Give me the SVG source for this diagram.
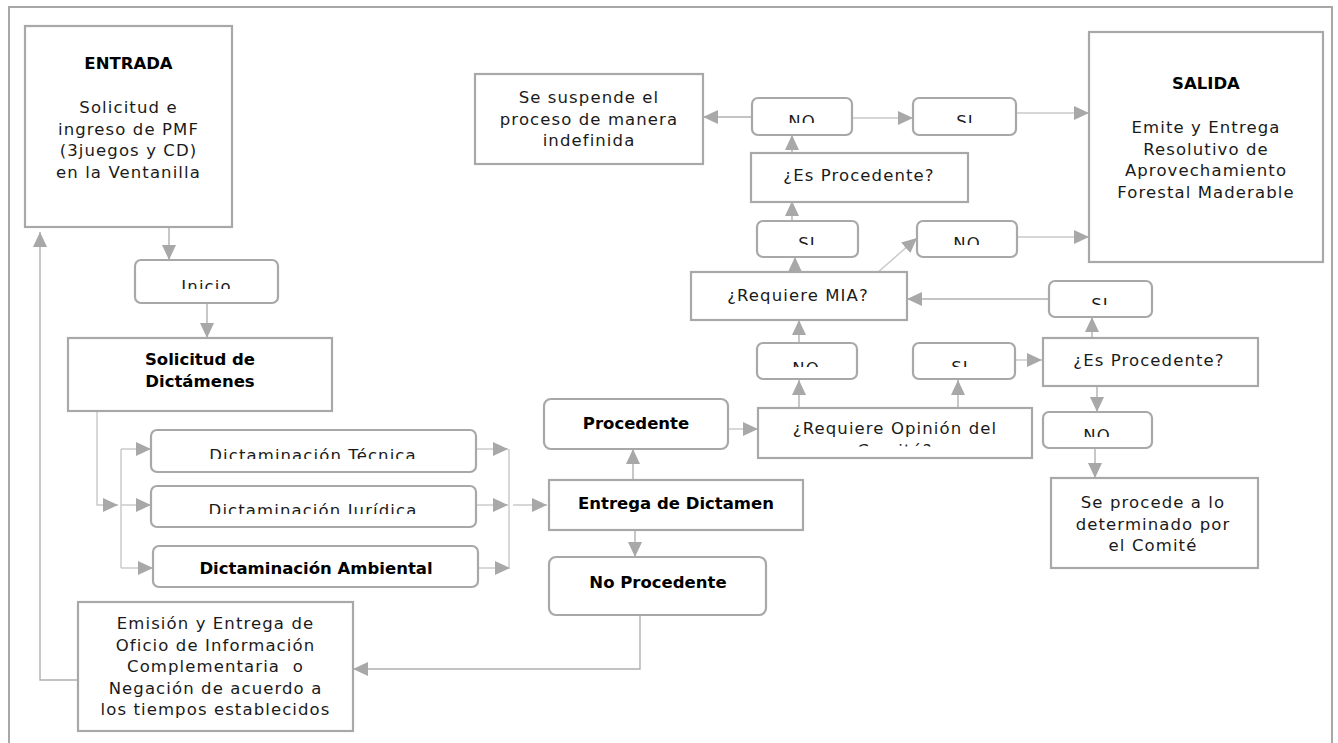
<svg xmlns="http://www.w3.org/2000/svg" width="1338" height="743" viewBox="0 0 1338 743">
<style>
.bx{fill:#fff;stroke:#a8a8a8;stroke-width:2.2}
.ln{fill:none;stroke:#b0b0b0;stroke-width:1.4}
.lt{fill:none;stroke:#c8c8c8;stroke-width:1.4}
.t{font-family:"DejaVu Sans","Liberation Sans",sans-serif;font-size:16.5px;fill:#1a1a1a;text-anchor:middle;letter-spacing:1.1px}
.b{font-family:"DejaVu Sans","Liberation Sans",sans-serif;font-size:16.5px;font-weight:bold;fill:#000;text-anchor:middle}
</style>
<defs>
<marker id="ar" markerUnits="userSpaceOnUse" markerWidth="15" markerHeight="14" refX="15" refY="7" orient="auto">
<path d="M0,0 L15,7 L0,14 Z" fill="#a8a8a8"/>
</marker>
<clipPath id="cInicio"><rect x="130" y="255" width="160" height="34"/></clipPath>
<clipPath id="cTec"><rect x="150" y="428" width="330" height="31"/></clipPath>
<clipPath id="cJur"><rect x="150" y="484" width="330" height="30"/></clipPath>
<clipPath id="cNoTop"><rect x="750" y="95" width="105" height="28"/></clipPath>
<clipPath id="cSiTop"><rect x="910" y="95" width="110" height="28"/></clipPath>
<clipPath id="cSiMid"><rect x="755" y="218" width="105" height="27"/></clipPath>
<clipPath id="cNoMid"><rect x="915" y="218" width="105" height="27"/></clipPath>
<clipPath id="cSiR"><rect x="1045" y="278" width="110" height="27"/></clipPath>
<clipPath id="cNoLL"><rect x="755" y="340" width="105" height="27"/></clipPath>
<clipPath id="cSiLM"><rect x="910" y="340" width="108" height="27"/></clipPath>
<clipPath id="cOp"><rect x="755" y="405" width="280" height="41.5"/></clipPath>
<clipPath id="cNoR"><rect x="1040" y="409" width="115" height="28"/></clipPath>
</defs>

<rect x="9" y="7" width="1323" height="760" fill="none" stroke="#a8a8a8" stroke-width="2"/>

<g id="connectors">
<path class="ln" d="M169,227 V260" marker-end="url(#ar)"/>
<path class="ln" d="M207,303 V338" marker-end="url(#ar)"/>
<path class="lt" d="M97,409 V505 H118" marker-end="url(#ar)"/>
<path class="lt" d="M121,449 V568"/>
<path class="lt" d="M121,449 H151" marker-end="url(#ar)"/>
<path class="lt" d="M121,505 H151" marker-end="url(#ar)"/>
<path class="lt" d="M121,568 H153" marker-end="url(#ar)"/>
<path class="lt" d="M476,449 H508" marker-end="url(#ar)"/>
<path class="lt" d="M476,505 H508" marker-end="url(#ar)"/>
<path class="lt" d="M478,568 H510" marker-end="url(#ar)"/>
<path class="lt" d="M509,449 V568"/>
<path class="lt" d="M513,505 H547" marker-end="url(#ar)"/>
<path class="ln" d="M633,480 V449" marker-end="url(#ar)"/>
<path class="ln" d="M635,530 V557" marker-end="url(#ar)"/>
<path class="ln" d="M640,615 V669 H353" marker-end="url(#ar)"/>
<path class="ln" d="M78,680 H40 V232" marker-end="url(#ar)"/>
<path class="lt" d="M728,429 H758" marker-end="url(#ar)"/>
<path class="ln" d="M799,408 V380" marker-end="url(#ar)"/>
<path class="ln" d="M958,410 V380" marker-end="url(#ar)"/>
<path class="ln" d="M799,343 V320" marker-end="url(#ar)"/>
<path class="lt" d="M1015,360 H1042" marker-end="url(#ar)"/>
<path class="ln" d="M1092,345 V317" marker-end="url(#ar)"/>
<path class="ln" d="M1049,299 H907" marker-end="url(#ar)"/>
<path class="ln" d="M1097,384 V412" marker-end="url(#ar)"/>
<path class="ln" d="M1095,448 V478" marker-end="url(#ar)"/>
<path class="ln" d="M795,272 V257" marker-end="url(#ar)"/>
<path class="lt" d="M877,273 L917,238" marker-end="url(#ar)"/>
<path class="lt" d="M1017,237 H1089" marker-end="url(#ar)"/>
<path class="ln" d="M792,221 V201" marker-end="url(#ar)"/>
<path class="ln" d="M792,153 V135" marker-end="url(#ar)"/>
<path class="ln" d="M752,117 H703" marker-end="url(#ar)"/>
<path class="lt" d="M852,118 H913" marker-end="url(#ar)"/>
<path class="lt" d="M1016,113 H1089" marker-end="url(#ar)"/>
</g>

<g id="entrada">
<rect class="bx" x="25" y="26" width="207" height="201"/>
<text class="b" x="128.5" y="69">ENTRADA</text>
<text class="t" x="128.5" y="113">Solicitud e</text>
<text class="t" x="128.5" y="134.5">ingreso de PMF</text>
<text class="t" x="128.5" y="156">(3juegos y CD)</text>
<text class="t" x="128.5" y="177.5">en la Ventanilla</text>
</g>

<g id="inicio">
<rect class="bx" x="135" y="260" width="143" height="43" rx="6"/>
<text class="t" x="206.5" y="292" clip-path="url(#cInicio)">Inicio</text>
</g>

<g id="solicitud">
<rect class="bx" x="68" y="338" width="264" height="73"/>
<text class="b" x="200" y="365">Solicitud de</text>
<text class="b" x="200" y="387">Dictámenes</text>
</g>

<g id="tecnica">
<rect class="bx" x="151" y="430" width="325" height="42" rx="6"/>
<text class="t" x="313" y="461" clip-path="url(#cTec)">Dictaminación Técnica</text>
</g>

<g id="juridica">
<rect class="bx" x="151" y="486" width="325" height="41" rx="6"/>
<text class="t" x="313" y="516" clip-path="url(#cJur)">Dictaminación Jurídica</text>
</g>

<g id="ambiental">
<rect class="bx" x="153" y="546" width="325" height="41" rx="6"/>
<text class="b" x="316" y="574">Dictaminación Ambiental</text>
</g>

<g id="emision">
<rect class="bx" x="78" y="602" width="275" height="129"/>
<text class="t" x="215.5" y="629">Emisión y Entrega de</text>
<text class="t" x="215.5" y="650.5">Oficio de Información</text>
<text class="t" x="215.5" y="672" xml:space="preserve">Complementaria  o</text>
<text class="t" x="215.5" y="693.5">Negación de acuerdo a</text>
<text class="t" x="215.5" y="715">los tiempos establecidos</text>
</g>

<g id="entrega">
<rect class="bx" x="549" y="480" width="254" height="50"/>
<text class="b" x="676" y="509">Entrega de Dictamen</text>
</g>

<g id="procedente">
<rect class="bx" x="544" y="399" width="184" height="50" rx="7"/>
<text class="b" x="636" y="429">Procedente</text>
</g>

<g id="noprocedente">
<rect class="bx" x="549" y="557" width="217" height="58" rx="7"/>
<text class="b" x="658" y="588">No Procedente</text>
</g>

<g id="suspende">
<rect class="bx" x="475" y="74" width="228" height="90"/>
<text class="t" x="589" y="103">Se suspende el</text>
<text class="t" x="589" y="124.5">proceso de manera</text>
<text class="t" x="589" y="146">indefinida</text>
</g>

<g id="no-top">
<rect class="bx" x="752" y="98" width="100" height="37" rx="6"/>
<text class="t" x="802" y="127" clip-path="url(#cNoTop)">NO</text>
</g>

<g id="si-top">
<rect class="bx" x="913" y="98" width="103" height="37" rx="6"/>
<text class="t" x="965" y="127" clip-path="url(#cSiTop)">SI</text>
</g>

<g id="esproc-top">
<rect class="bx" x="751" y="153" width="217" height="49"/>
<text class="t" x="859" y="181">¿Es Procedente?</text>
</g>

<g id="si-mid">
<rect class="bx" x="757" y="221" width="101" height="36" rx="6"/>
<text class="t" x="807" y="249" clip-path="url(#cSiMid)">SI</text>
</g>

<g id="no-mid">
<rect class="bx" x="917" y="221" width="100" height="36" rx="6"/>
<text class="t" x="967" y="249" clip-path="url(#cNoMid)">NO</text>
</g>

<g id="mia">
<rect class="bx" x="691" y="272" width="216" height="48"/>
<text class="t" x="798" y="301">¿Requiere MIA?</text>
</g>

<g id="salida">
<rect class="bx" x="1089" y="32" width="234" height="230"/>
<text class="b" x="1206" y="89">SALIDA</text>
<text class="t" x="1206" y="133">Emite y Entrega</text>
<text class="t" x="1206" y="154.5">Resolutivo de</text>
<text class="t" x="1206" y="176">Aprovechamiento</text>
<text class="t" x="1206" y="197.5">Forestal Maderable</text>
</g>

<g id="si-right">
<rect class="bx" x="1049" y="281" width="103" height="36" rx="6"/>
<text class="t" x="1100" y="310" clip-path="url(#cSiR)">SI</text>
</g>

<g id="no-lowleft">
<rect class="bx" x="757" y="343" width="100" height="36" rx="6"/>
<text class="t" x="806" y="374" clip-path="url(#cNoLL)">NO</text>
</g>

<g id="si-lowmid">
<rect class="bx" x="913" y="343" width="102" height="36" rx="6"/>
<text class="t" x="960" y="373" clip-path="url(#cSiLM)">SI</text>
</g>

<g id="opinion">
<rect class="bx" x="758" y="408" width="274" height="50"/>
<text class="t" x="895" y="434" clip-path="url(#cOp)">¿Requiere Opinión del</text>
<text class="t" x="895" y="455.5" clip-path="url(#cOp)">Comité?</text>
</g>

<g id="esproc-right">
<rect class="bx" x="1043" y="338" width="215" height="48"/>
<text class="t" x="1149" y="366">¿Es Procedente?</text>
</g>

<g id="no-right">
<rect class="bx" x="1043" y="412" width="109" height="36" rx="6"/>
<text class="t" x="1097" y="441" clip-path="url(#cNoR)">NO</text>
</g>

<g id="seprocede">
<rect class="bx" x="1051" y="478" width="207" height="90"/>
<text class="t" x="1153" y="508">Se procede a lo</text>
<text class="t" x="1153" y="529.5">determinado por</text>
<text class="t" x="1153" y="551">el Comité</text>
</g>
</svg>
